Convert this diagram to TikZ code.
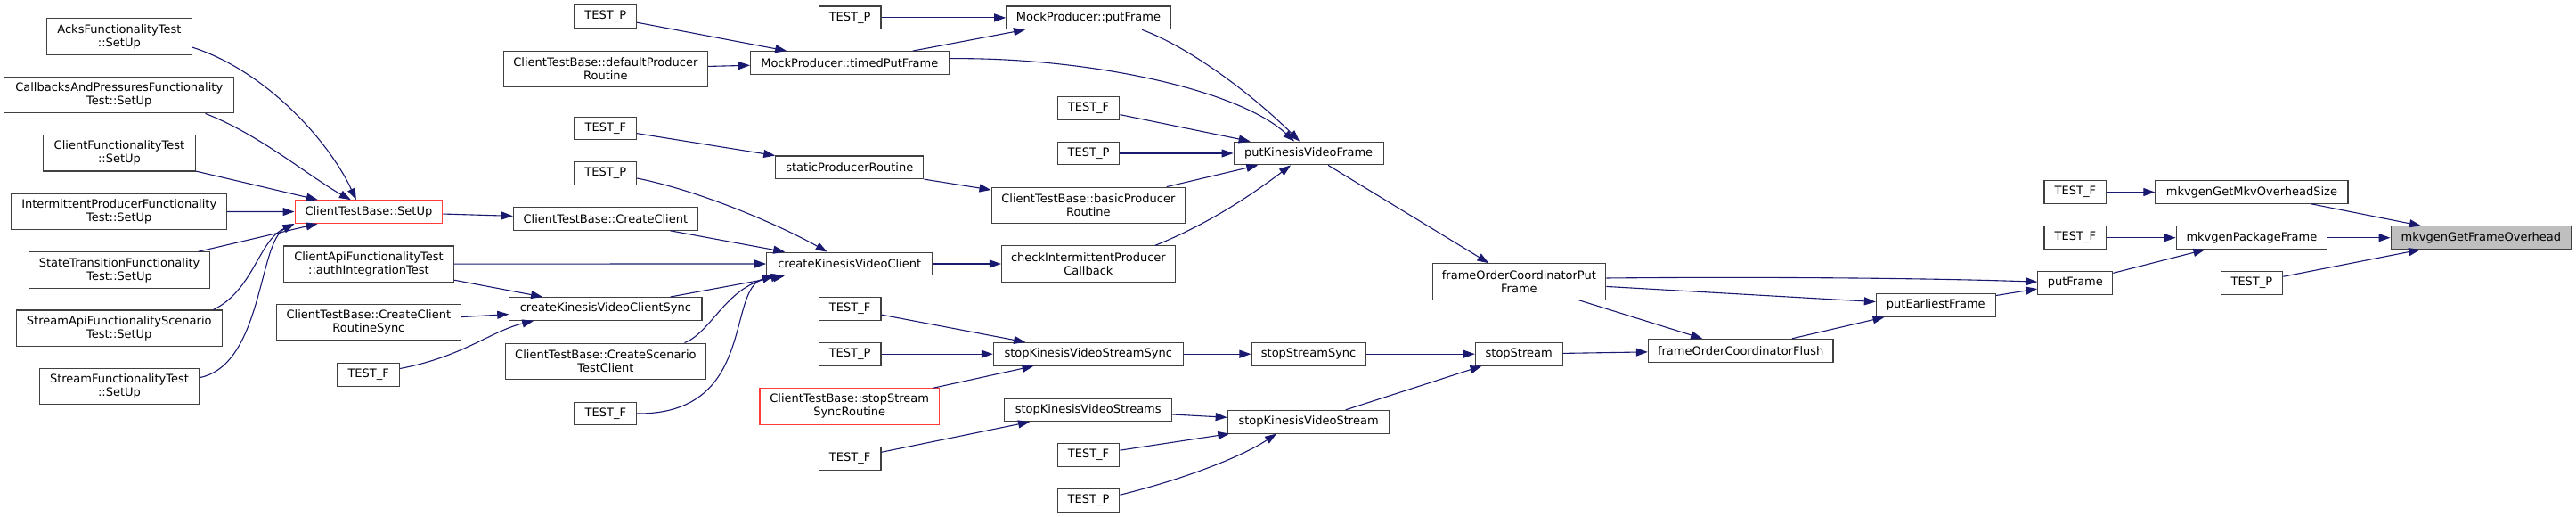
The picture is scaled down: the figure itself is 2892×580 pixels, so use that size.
\documentclass[tikz,border=0pt]{standalone}
\usepackage{fontspec}
\setmainfont{DejaVu Sans}
\usetikzlibrary{arrows.meta}

\definecolor{edgeblue}{HTML}{191970}
\definecolor{boxgray}{HTML}{404040}
\definecolor{curgray}{HTML}{BFBFBF}
\definecolor{hired}{HTML}{FF3B3B}

\begin{document}
\begin{tikzpicture}[x=1pt, y=1pt, >={Triangle[length=13pt, width=9pt]},
        fn/.style={draw=boxgray, line width=1.1pt, fill=white, minimum width=#1pt,
            minimum height=25.7pt, inner xsep=1pt, inner ysep=0pt, align=center,
            font=\fontsize{13}{15}\selectfont},
        fn2/.style={fn=#1, minimum height=40.3pt},
        hot/.style={draw=hired},
        cur/.style={fill=curgray},
        lnk/.style={->, draw=edgeblue, line width=1.1pt}]
            \useasboundingbox (0,0) rectangle (2892,-580);
            % test fixtures
            \node[fn2=163] (acks) at (133.9,-41.1) {AcksFunctionalityTest\\::SetUp};
            \node[fn2=258.3] (cbp) at (133.75,-106.7) {CallbacksAndPressuresFunctionality\\Test::SetUp};
            \node[fn2=170.7] (cft) at (134,-171.9) {ClientFunctionalityTest\\::SetUp};
            \node[fn2=241.5] (ipf) at (133.75,-237.4) {IntermittentProducerFunctionality\\Test::SetUp};
            \node[fn2=202.4] (stf) at (134.1,-303) {StateTransitionFunctionality\\Test::SetUp};
            \node[fn2=230.7] (saf) at (133.75,-368.1) {StreamApiFunctionalityScenario\\Test::SetUp};
            \node[fn2=178.3] (sft) at (134,-433.7) {StreamFunctionalityTest\\::SetUp};
            % second column
            \node[fn=165.7, hot] (setup) at (413.9,-237.6) {ClientTestBase::SetUp};
            \node[fn2=191.3] (capi) at (414,-296.1) {ClientApiFunctionalityTest\\::authIntegrationTest};
            \node[fn2=207.1] (ccrs) at (413.9,-361.5) {ClientTestBase::CreateClient\\RoutineSync};
            \node[fn=69.7] (tfa) at (413.7,-420.5) {TEST\_F};
            % third column
            \node[fn=69.7] (tpa) at (679.8,-18.5) {TEST\_P};
            \node[fn2=229.2] (dpr) at (679.9,-77.3) {ClientTestBase::defaultProducer\\Routine};
            \node[fn=69.7] (tfb) at (679.8,-144) {TEST\_F};
            \node[fn=69.7] (tpb) at (679.8,-194.5) {TEST\_P};
            \node[fn=207] (cc) at (679.9,-245.4) {ClientTestBase::CreateClient};
            \node[fn=216.2] (ckvcs) at (679.9,-346.4) {createKinesisVideoClientSync};
            \node[fn2=225.4] (cstc) at (679.9,-405.2) {ClientTestBase::CreateScenario\\TestClient};
            \node[fn=69.7] (tfc) at (679.8,-464) {TEST\_F};
            % fourth column
            \node[fn=69.7] (tpc) at (954.1,-19.9) {TEST\_P};
            \node[fn=222.7] (tpfr) at (953.8,-70.5) {MockProducer::timedPutFrame};
            \node[fn=166.1] (spr) at (953.8,-187.9) {staticProducerRoutine};
            \node[fn=186] (ckvc) at (953.7,-296) {createKinesisVideoClient};
            \node[fn=69.7] (tfd) at (954.1,-346.4) {TEST\_F};
            \node[fn=69.7] (tpd) at (954.1,-397.2) {TEST\_P};
            \node[fn2=201.4, hot] (sssr) at (953.7,-455.9) {ClientTestBase::stopStream\\SyncRoutine};
            \node[fn=69.7] (tfe) at (954.1,-514.5) {TEST\_F};
            % fifth column
            \node[fn=184.5] (mpf) at (1222,-19.9) {MockProducer::putFrame};
            \node[fn=69.7] (tff) at (1222,-121.4) {TEST\_F};
            \node[fn=69.7] (tpe) at (1222,-172) {TEST\_P};
            \node[fn2=217.7] (bpr) at (1221.9,-230.3) {ClientTestBase::basicProducer\\Routine};
            \node[fn2=194.8] (cipc) at (1221.9,-296) {checkIntermittentProducer\\Callback};
            \node[fn=212.8] (skvss) at (1221.7,-397.2) {stopKinesisVideoStreamSync};
            \node[fn=188.2] (skvsm) at (1221.7,-459.9) {stopKinesisVideoStreams};
            \node[fn=69.7] (tfg) at (1222,-510.5) {TEST\_F};
            \node[fn=69.7] (tpg) at (1222,-561.2) {TEST\_P};
            % sixth column
            \node[fn=168] (pkvf) at (1469.1,-172) {putKinesisVideoFrame};
            \node[fn=128.2] (sss) at (1469.1,-397.2) {stopStreamSync};
            \node[fn=181.8] (skvs) at (1469.1,-473.2) {stopKinesisVideoStream};
            % frame order coordinator
            \node[fn2=194.7] (focp) at (1705.4,-315.9) {frameOrderCoordinatorPut\\Frame};
            \node[fn=97.7] (ss) at (1705.2,-397.2) {stopStream};
            \node[fn=207.6] (focf) at (1954.2,-393.2) {frameOrderCoordinatorFlush};
            \node[fn=133.9] (pef) at (2173.3,-342.4) {putEarliestFrame};
            % mkvgen
            \node[fn=83.9] (pf) at (2329.8,-317.2) {putFrame};
            \node[fn=69.7] (tfh) at (2329.8,-215.5) {TEST\_F};
            \node[fn=69.7] (tfi) at (2329.8,-266.7) {TEST\_F};
            \node[fn=216.2] (mgmo) at (2527.9,-215.5) {mkvgenGetMkvOverheadSize};
            \node[fn=169.4] (mpk) at (2527.9,-266.7) {mkvgenPackageFrame};
            \node[fn=69.7] (tph) at (2527.9,-317.2) {TEST\_P};
            \node[fn=202.7, cur] (mgfo) at (2785.4,-266.7) {mkvgenGetFrameOverhead};
            % into ClientTestBase::SetUp
            \draw[lnk] ([yshift=-12]acks.east) .. controls (300,-80) and (370,-160) .. ([xshift=-14]setup.north);
            \draw[lnk] ([xshift=-33]cbp.south east) .. controls (290,-150) and (350,-200) .. ([xshift=-20]setup.north);
            \draw[lnk] (cft) -- (setup);
            \draw[lnk] (ipf) -- (setup);
            \draw[lnk] (stf) -- (setup);
            \draw[lnk] ([xshift=-10]saf.north east) .. controls (285,-325) and (290,-270) .. (setup.south west);
            \draw[lnk] ([yshift=10]sft.east) .. controls (295,-410) and (290,-272) .. (setup.south west);
            \draw[lnk] (setup) -- (cc);
            % into createKinesisVideoClientSync
            \draw[lnk] (capi) -- (ckvcs);
            \draw[lnk] (ccrs) -- (ckvcs);
            \draw[lnk] ([yshift=7]tfa.east) .. controls (520,-400) and (550,-372) .. ([xshift=28]ckvcs.south west);
            % into createKinesisVideoClient
            \draw[lnk] (capi) -- (ckvc);
            \draw[lnk] (cc) -- (ckvc);
            \draw[lnk] (ckvcs) -- (ckvc);
            \draw[lnk] ([yshift=-5.5]tpb.east) .. controls (790,-215) and (880,-255) .. ([xshift=-25]ckvc.north);
            \draw[lnk] ([xshift=-24.6]cstc.north east) .. controls (800,-372) and (815,-320) .. ([xshift=-75]ckvc.south);
            \draw[lnk] (tfc.east) .. controls (850,-465) and (815,-325) .. ([xshift=-85]ckvc.south);
            % mock producer
            \draw[lnk] (tpa) -- (tpfr);
            \draw[lnk] (dpr) -- (tpfr);
            \draw[lnk] (tpc) -- (mpf);
            \draw[lnk] (tpfr) -- (mpf);
            \draw[lnk] ([yshift=4.8]tpfr.east) .. controls (1220,-64) and (1390,-100) .. ([xshift=-16]pkvf.north);
            \draw[lnk] ([xshift=60]mpf.south) .. controls (1340,-55) and (1410,-110) .. ([xshift=-10]pkvf.north);
            \draw[lnk] (tfb) -- (spr);
            \draw[lnk] (spr) -- (bpr);
            % into putKinesisVideoFrame
            \draw[lnk] (tff) -- (pkvf);
            \draw[lnk] (tpe) -- (pkvf);
            \draw[lnk] (bpr) -- (pkvf);
            \draw[lnk] ([xshift=75]cipc.north) .. controls (1360,-250) and (1410,-215) .. ([xshift=-20]pkvf.south);
            \draw[lnk] (ckvc) -- (cipc);
            \draw[lnk] (pkvf) -- (focp);
            % stop stream
            \draw[lnk] (tfd) -- (skvss);
            \draw[lnk] (tpd) -- (skvss);
            \draw[lnk] (sssr) -- (skvss);
            \draw[lnk] (skvss) -- (sss);
            \draw[lnk] (sss) -- (ss);
            \draw[lnk] (tfe) -- (skvsm);
            \draw[lnk] (skvsm) -- (skvs);
            \draw[lnk] (tfg) -- (skvs);
            \draw[lnk] ([yshift=6]tpg.east) .. controls (1320,-540) and (1390,-515) .. ([xshift=-36]skvs.south);
            \draw[lnk] (skvs) -- (ss);
            \draw[lnk] (ss) -- (focf);
            % frame order coordinator
            \draw[lnk] (focp) -- (focf);
            \draw[lnk] (focp) -- (pef);
            \draw[lnk] ([yshift=3.9]focp.east) .. controls (1950,-310.5) and (2150,-311.5) .. ([yshift=1]pf.west);
            \draw[lnk] (focf) -- (pef);
            \draw[lnk] (pef) -- (pf);
            % mkvgen
            \draw[lnk] (pf) -- (mpk);
            \draw[lnk] (tfh) -- (mgmo);
            \draw[lnk] (tfi) -- (mpk);
            \draw[lnk] (mgmo) -- (mgfo);
            \draw[lnk] (mpk) -- (mgfo);
            \draw[lnk] (tph) -- (mgfo);
        \end{tikzpicture}
\end{document}
